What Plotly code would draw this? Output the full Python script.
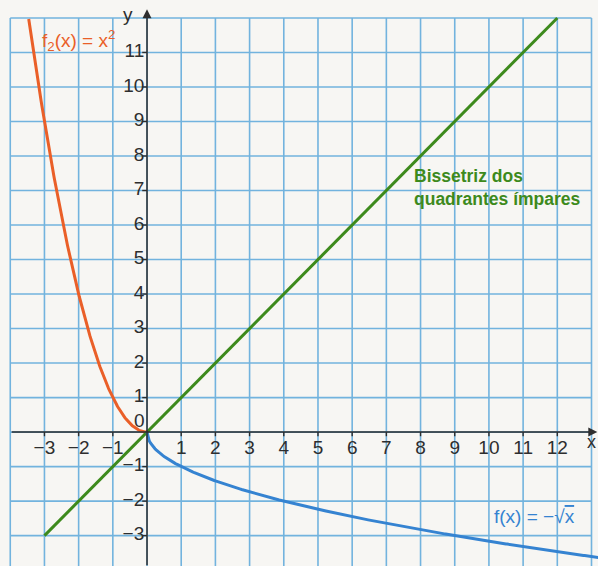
import numpy as np
import plotly.graph_objects as go

# Grid extent and tick labels
grid_x = list(range(-4, 14))
grid_y = list(range(-4, 13))
x_tick_vals = [-3, -2, -1, 1, 2, 3, 4, 5, 6, 7, 8, 9, 10, 11, 12]
y_tick_vals = [-3, -2, -1, 1, 2, 3, 4, 5, 6, 7, 8, 9, 10, 11]

# Function domains
parab_domain = (-3.46, 0.0)
bisect_domain = (-3.0, 12.0)
sqrt_domain = (0.0, 13.3)

GRID = "#72b3de"
ORANGE = "#ea5f28"
GREEN = "#3d8a1c"
BLUE = "#3583d1"
INK = "#2e2e2e"
FONT = "Liberation Sans, Arial, sans-serif"


def minus(v):
    return f"\u2212{abs(v)}" if v < 0 else str(v)


fig = go.Figure()

# Square grid drawn as line segments
gx, gy = [], []
for v in grid_x:
    gx += [v, v, None]
    gy += [grid_y[0], grid_y[-1], None]
for v in grid_y:
    gx += [grid_x[0], grid_x[-1], None]
    gy += [v, v, None]
fig.add_trace(go.Scatter(x=gx, y=gy, mode="lines",
                         line=dict(color=GRID, width=1.6), hoverinfo="skip"))

# Tick marks on the axes
tx, ty = [], []
for v in x_tick_vals:
    tx += [v, v, None]
    ty += [0, -0.12, None]
for v in y_tick_vals:
    tx += [-0.14, 0, None]
    ty += [v, v, None]
fig.add_trace(go.Scatter(x=tx, y=ty, mode="lines",
                         line=dict(color=INK, width=1.4), hoverinfo="skip"))

# Curves
xp = np.linspace(*parab_domain, 200)
fig.add_trace(go.Scatter(x=xp, y=xp ** 2, mode="lines",
                         line=dict(color=ORANGE, width=3), hoverinfo="skip"))
xb = np.array(bisect_domain)
fig.add_trace(go.Scatter(x=xb, y=xb, mode="lines",
                         line=dict(color=GREEN, width=3), hoverinfo="skip"))
xs = np.linspace(*sqrt_domain, 400)
fig.add_trace(go.Scatter(x=xs, y=-np.sqrt(xs), mode="lines",
                         line=dict(color=BLUE, width=3), hoverinfo="skip"))

# Tick labels
fig.add_trace(go.Scatter(x=x_tick_vals, y=[-0.5] * len(x_tick_vals), mode="text",
                         text=[minus(v) for v in x_tick_vals],
                         textfont=dict(family=FONT, size=19, color=INK),
                         hoverinfo="skip"))
fig.add_trace(go.Scatter(x=[-0.08] * len(y_tick_vals), y=y_tick_vals, mode="text",
                         text=[minus(v) for v in y_tick_vals], textposition="middle left",
                         textfont=dict(family=FONT, size=19, color=INK),
                         hoverinfo="skip"))

annotations = [
    # axes with arrowheads
    dict(x=13.17, y=0, ax=-4.0, ay=0, xref="x", yref="y", axref="x", ayref="y",
         showarrow=True, arrowhead=2, arrowsize=1.2, arrowwidth=1.5, arrowcolor=INK, text=""),
    dict(x=0, y=12.25, ax=0, ay=-3.9, xref="x", yref="y", axref="x", ayref="y",
         showarrow=True, arrowhead=2, arrowsize=1.2, arrowwidth=1.5, arrowcolor=INK, text=""),
    dict(x=-0.55, y=12.1, text="y", showarrow=False,
         font=dict(family=FONT, size=19, color=INK)),
    dict(x=1, xref="paper", y=-0.3, text="x", showarrow=False, xanchor="right",
         font=dict(family=FONT, size=18, color=INK)),
    dict(x=-0.22, y=0.33, text="0", showarrow=False,
         font=dict(family=FONT, size=19, color=INK)),
    # function labels
    dict(x=-2.0, y=11.36, text="f<sub>2</sub>(x) = x<sup>2</sup>", showarrow=False,
         font=dict(family=FONT, size=19, color=ORANGE)),
    dict(x=7.75, y=7.1, text="Bissetriz dos<br>quadrantes ímpares", showarrow=False,
         xanchor="left", align="left",
         font=dict(family=FONT, size=17.5, color=GREEN, weight="bold")),
    dict(x=10.1, y=-2.45, xanchor="left",
         text="f(x) = \u2212\u221a<span style='text-decoration:overline'>x</span>",
         showarrow=False, font=dict(family=FONT, size=19, color=BLUE)),
]

fig.update_layout(
    width=598, height=566,
    margin=dict(l=0, r=0, t=0, b=0),
    paper_bgcolor="#f7f6f3", plot_bgcolor="#f7f6f3",
    showlegend=False,
    xaxis=dict(range=[-4.3, 13.19], visible=False, fixedrange=True),
    yaxis=dict(range=[-3.88, 12.52], visible=False, fixedrange=True),
    annotations=annotations,
)

fig.write_html("out.html")
